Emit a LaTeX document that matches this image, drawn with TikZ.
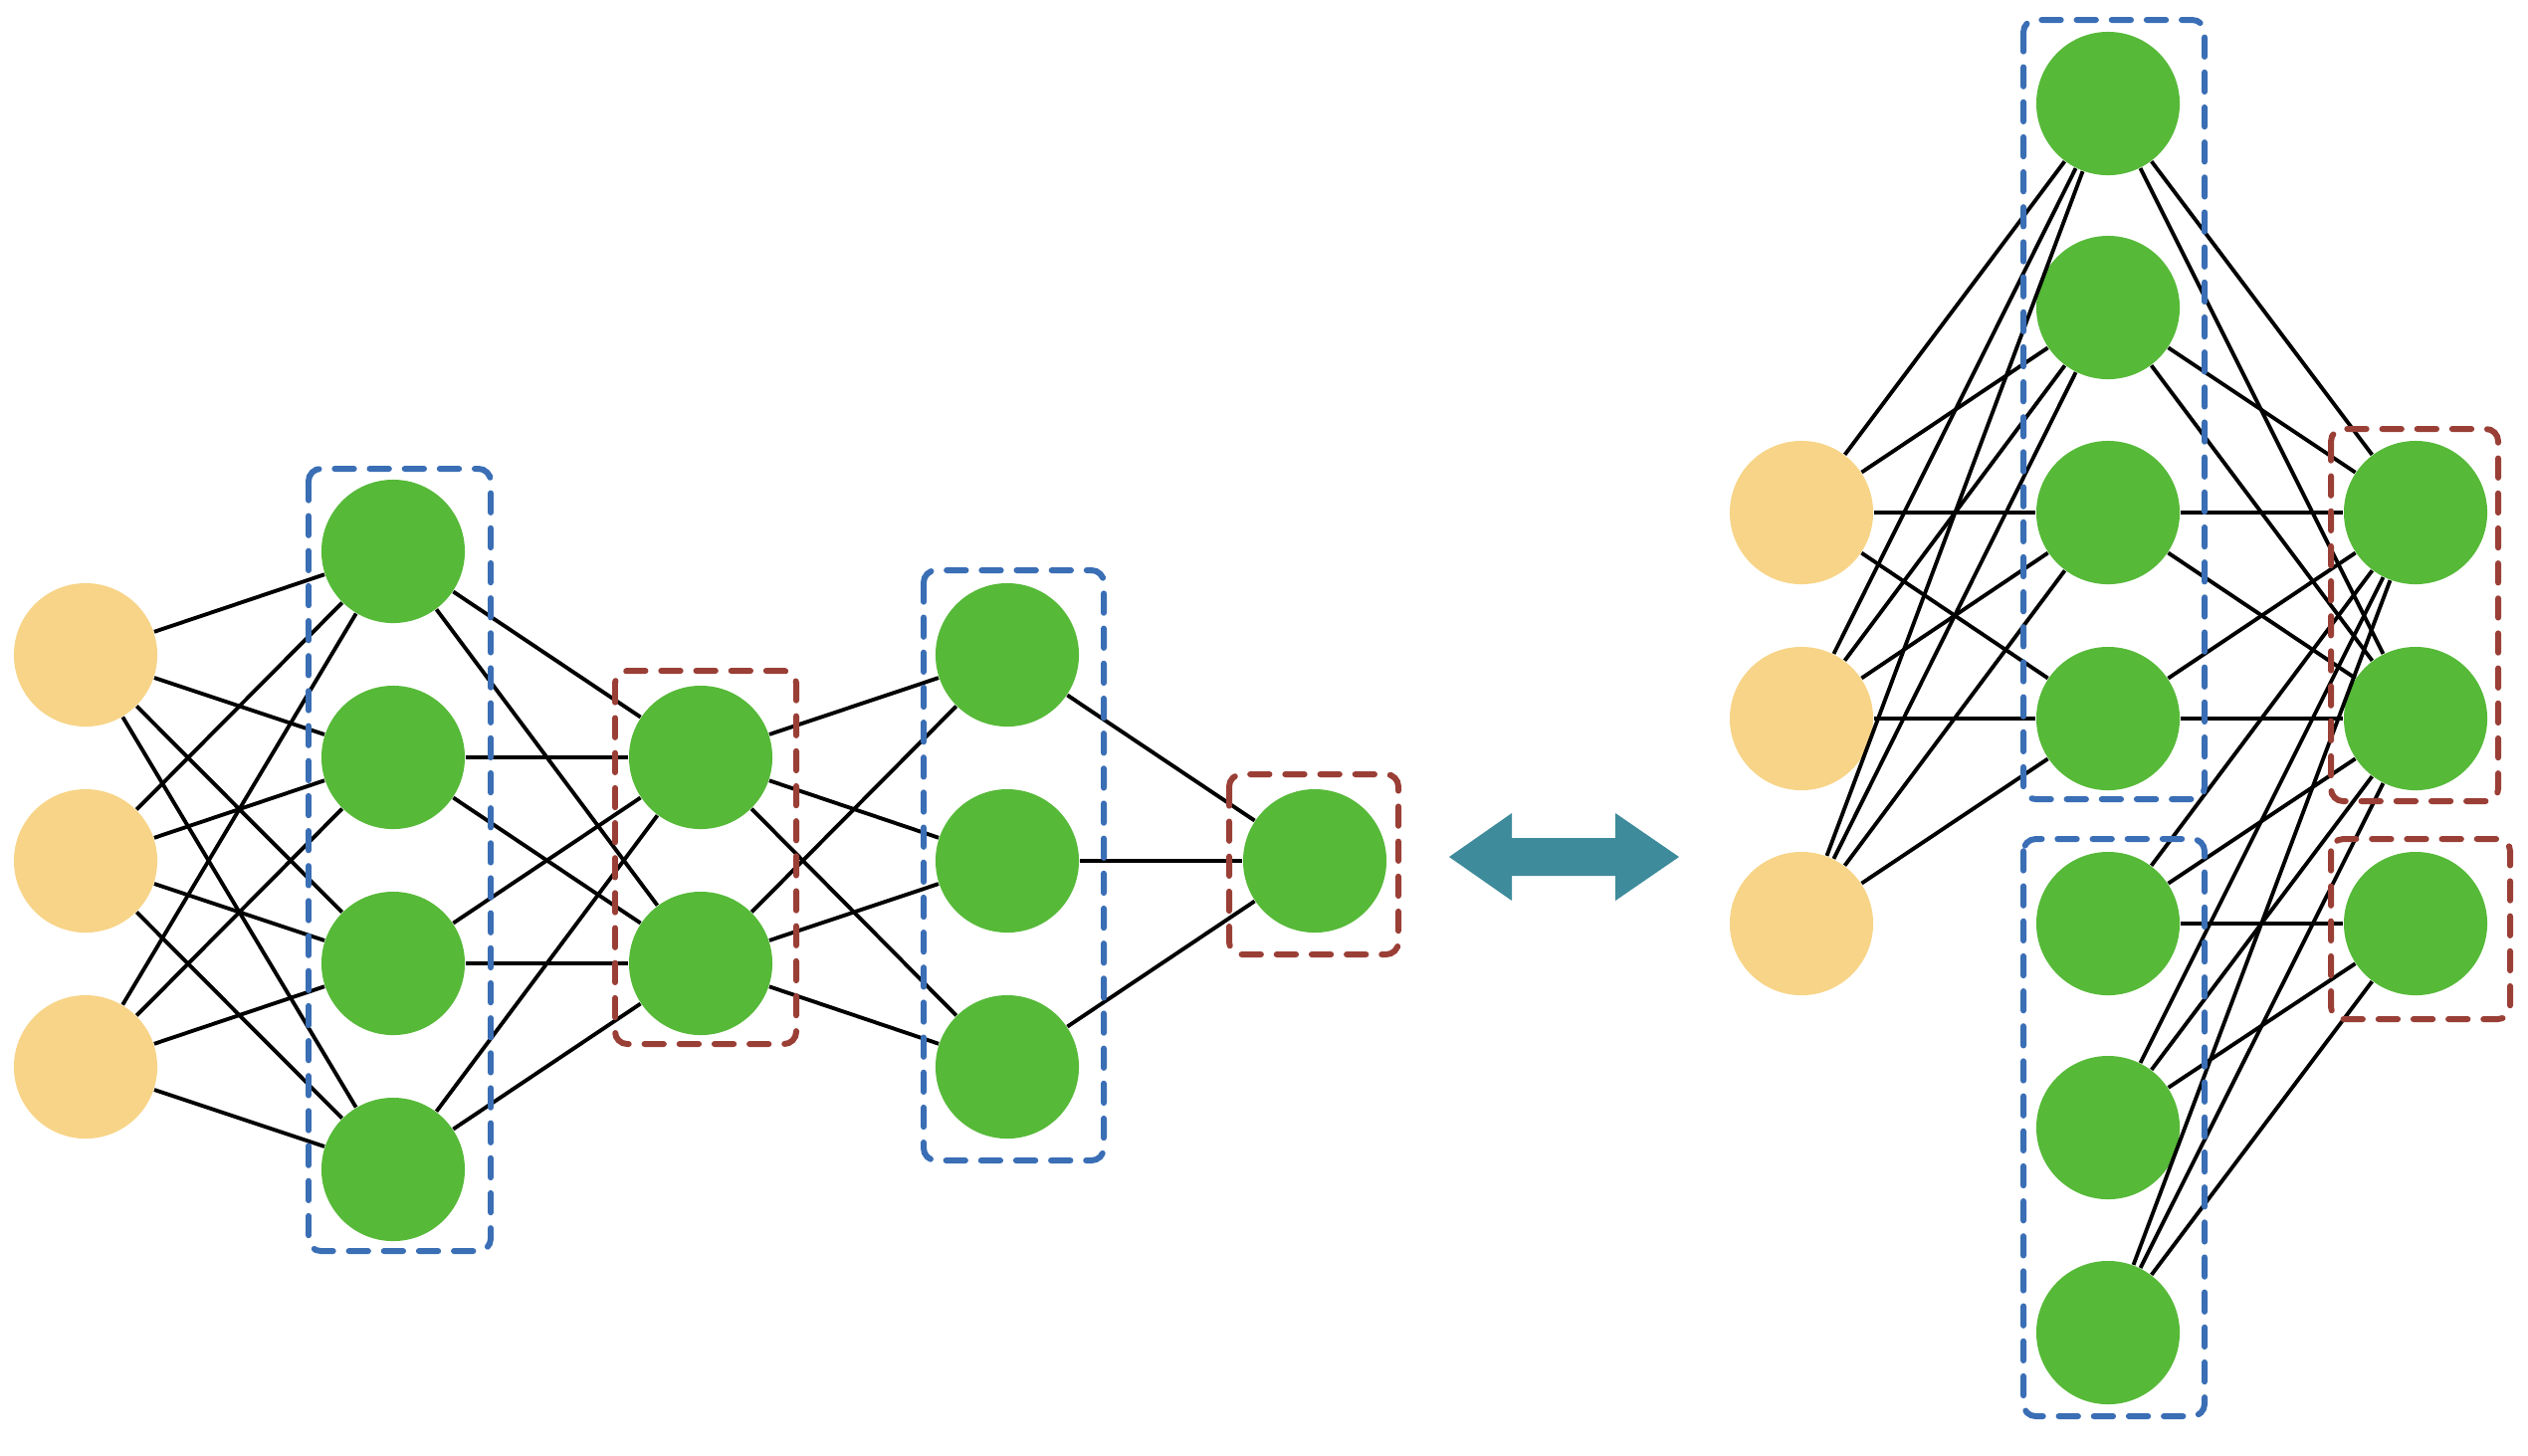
\documentclass[tikz,border=0pt]{standalone}
\usepackage{tikz}
\definecolor{sable}{RGB}{247,212,136}
\definecolor{vert}{RGB}{86,185,56}
\definecolor{bleu}{RGB}{58,110,181}
\definecolor{brique}{RGB}{154,63,54}
\definecolor{canard}{RGB}{62,139,155}
\tikzset{neur/.style={circle,minimum size=1.44cm,inner sep=0pt},
  entree/.style={neur,fill=sable},
  cache/.style={neur,fill=vert},
  lien/.style={line width=1.1pt},
  cadre/.style={line width=1.7pt,dash pattern=on 5.5pt off 4.5pt,line cap=round,rounded corners=3.5pt}}
\begin{document}
\begin{tikzpicture}[x=0.01cm,y=-0.01cm]
\useasboundingbox (0,0) rectangle (2540,1462);
\foreach \i/\y in {1/658,2/865,3/1072} \node[entree] (e\i) at (86,\y) {};
\foreach \i/\y in {1/554,2/761,3/968,4/1175} \node[cache] (a\i) at (395,\y) {};
\foreach \i/\y in {1/761,2/968} \node[cache] (b\i) at (704,\y) {};
\foreach \i/\y in {1/658,2/865,3/1072} \node[cache] (c\i) at (1012,\y) {};
\node[cache] (s) at (1321,865) {};
\foreach \i in {1,2,3} \foreach \j in {1,...,4} \draw[lien] (e\i)--(a\j);
\foreach \i in {1,...,4} \foreach \j in {1,2} \draw[lien] (a\i)--(b\j);
\foreach \i in {1,2} \foreach \j in {1,2,3} \draw[lien] (b\i)--(c\j);
\foreach \i in {1,2,3} \draw[lien] (c\i)--(s);
\draw[cadre,bleu] (310,471) rectangle (493,1257);
\draw[cadre,brique] (618,674) rectangle (800,1049);
\draw[cadre,bleu] (928,573) rectangle (1109,1166);
\draw[cadre,brique] (1235,778) rectangle (1405,959);
\fill[canard] (1456,861) -- (1519,817) -- (1519,842) -- (1623,842) -- (1623,817) -- (1687,861)
  -- (1623,905) -- (1623,880) -- (1519,880) -- (1519,905) -- cycle;
\foreach \i/\y in {1/515,2/722,3/928} \node[entree] (x\i) at (1810,\y) {};
\foreach \i/\y in {1/104,2/309,3/515,4/722,5/928,6/1133,7/1339} \node[cache] (h\i) at (2118,\y) {};
\foreach \i/\y in {1/515,2/722,3/928} \node[cache] (y\i) at (2427,\y) {};
\foreach \i in {1,2,3} \foreach \j in {1,...,4} \draw[lien] (x\i)--(h\j);
\foreach \i in {1,...,4} \foreach \j in {1,2} \draw[lien] (h\i)--(y\j);
\foreach \i in {5,6,7} \foreach \j in {1,2,3} \draw[lien] (h\i)--(y\j);
\draw[cadre,bleu] (2033,20) rectangle (2215,803);
\draw[cadre,bleu] (2033,843) rectangle (2215,1423);
\draw[cadre,brique] (2342,431) rectangle (2510,805);
\draw[cadre,brique] (2342,843) rectangle (2522,1024);
\end{tikzpicture}
\end{document}
